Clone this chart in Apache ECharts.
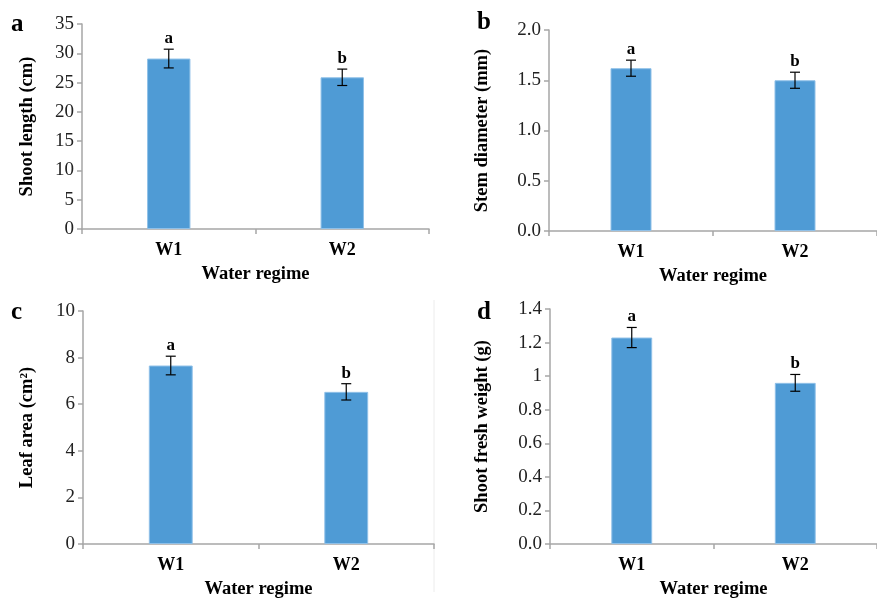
<!DOCTYPE html>
<html>
<head>
<meta charset="utf-8">
<script src="https://cdn.jsdelivr.net/npm/echarts@6/dist/echarts.min.js"></script>
<style>
html,body{margin:0;padding:0;background:#fff;}
#c{width:877px;height:600px;}
</style>
</head>
<body>
<div id="c"></div>
<script>
const categories = ['W1', 'W2'];
const sigLetters = ['a', 'b'];
const shootLength = [29.1, 25.9];
const shootLengthErr = [1.6, 1.4];
const stemDiameter = [1.62, 1.50];
const stemDiameterErr = [0.08, 0.08];
const leafArea = [7.66, 6.53];
const leafAreaErr = [0.40, 0.35];
const shootFreshWeight = [1.23, 0.96];
const shootFreshWeightErr = [0.06, 0.05];
const panelLetters = ['a', 'b', 'c', 'd'];
const yTitles = ['Shoot length (cm)', 'Stem diameter (mm)', 'Leaf area (cm\u00B2)', 'Shoot fresh weight (g)'];
const xTitle = 'Water regime';
const yMax = [35, 2.0, 10, 1.4];
const yStep = [5, 0.5, 2, 0.2];
const dTickLabels = {'0':'0.0','0.2':'0.2','0.4':'0.4','0.6':'0.6','0.8':'0.8','1':'1','1.2':'1.2','1.4':'1.4'};

const FONT = '"Liberation Serif", "Times New Roman", serif';
const AXIS_GRAY = '#a6a6a6';
const BAR_BLUE = '#4f9bd5';

const grids = [
  {left: 82, top: 24, width: 347, height: 205},
  {left: 549, top: 30, width: 338, height: 201},
  {left: 83, top: 311, width: 351, height: 238},
  {left: 550, top: 309, width: 338, height: 243}
];
const yNameGaps = [45, 57, 46, 58];
const formatters = [
  v => String(v),
  v => v.toFixed(1),
  v => String(v),
  v => dTickLabels[String(Math.round(v*10)/10)] || String(v)
];
const values = [shootLength, stemDiameter, leafArea, shootFreshWeight];
const errs = [shootLengthErr, stemDiameterErr, leafAreaErr, shootFreshWeightErr];

const option = {
  animation: false,
  backgroundColor: '#fff',
  grid: grids.map(g => Object.assign({containLabel: false}, g)),
  xAxis: grids.map((g, i) => ({
    type: 'category', gridIndex: i, data: categories,
    boundaryGap: true,
    axisLine: {show: true, lineStyle: {color: AXIS_GRAY, width: 1.5}},
    axisTick: {show: true, length: 5, lineStyle: {color: AXIS_GRAY, width: 1.5}},
    axisLabel: {fontFamily: FONT, fontWeight: 'bold', fontSize: 18, color: '#000', margin: 12},
    name: xTitle, nameLocation: 'middle', nameGap: 36,
    nameTextStyle: {fontFamily: FONT, fontWeight: 'bold', fontSize: 18.5, color: '#000'}
  })),
  yAxis: grids.map((g, i) => ({
    type: 'value', gridIndex: i, min: 0, max: yMax[i], interval: yStep[i],
    splitLine: {show: false},
    axisLine: {show: true, lineStyle: {color: AXIS_GRAY, width: 1.5}},
    axisTick: {show: true, length: 5, inside: false, lineStyle: {color: AXIS_GRAY, width: 1.5}},
    axisLabel: {fontFamily: FONT, fontSize: 19, color: '#222', margin: 8, formatter: formatters[i]},
    name: yTitles[i], nameLocation: 'middle', nameRotate: 90, nameGap: yNameGaps[i],
    nameTextStyle: {fontFamily: FONT, fontWeight: 'bold', fontSize: 18.5, color: '#000'}
  })),
  graphic: grids.map((g, i) => ({
    type: 'text',
    left: (i % 2 === 0) ? 11 : 477,
    top: (i < 2) ? (i === 0 ? 12 : 10) : 300,
    style: {text: panelLetters[i], font: 'bold 25px ' + FONT, fill: '#000'}
  })).concat([{
    type: 'line', shape: {x1: 434, y1: 300, x2: 434, y2: 592},
    style: {stroke: '#ececec', lineWidth: 1}
  }]),
  series: []
};

values.forEach((vals, i) => {
  option.series.push({
    type: 'bar', xAxisIndex: i, yAxisIndex: i, data: vals,
    barWidth: '25%',
    itemStyle: {color: BAR_BLUE, borderColor: '#8fc0e8', borderWidth: 1}
  });
  option.series.push({
    type: 'custom', xAxisIndex: i, yAxisIndex: i,
    data: vals.map((v, k) => [k, v, errs[i][k]]),
    z: 10,
    renderItem: function (params, api) {
      const k = api.value(0), v = api.value(1), e = api.value(2);
      const hi = api.coord([k, v + e]);
      const lo = api.coord([k, v - e]);
      const x = hi[0], cw = 5;
      const st = {stroke: '#000', lineWidth: 1.2};
      return {
        type: 'group',
        children: [
          {type: 'line', shape: {x1: x, y1: hi[1], x2: x, y2: lo[1]}, style: st},
          {type: 'line', shape: {x1: x - cw, y1: hi[1], x2: x + cw, y2: hi[1]}, style: st},
          {type: 'line', shape: {x1: x - cw, y1: lo[1], x2: x + cw, y2: lo[1]}, style: st},
          {type: 'text', x: x, y: hi[1] - 2,
           style: {text: sigLetters[k], font: 'bold 17px ' + FONT, fill: '#000', align: 'center', verticalAlign: 'bottom'}}
        ]
      };
    }
  });
});

const chart = echarts.init(document.getElementById('c'), null, {renderer: 'canvas'});
chart.setOption(option);
</script>
</body>
</html>
